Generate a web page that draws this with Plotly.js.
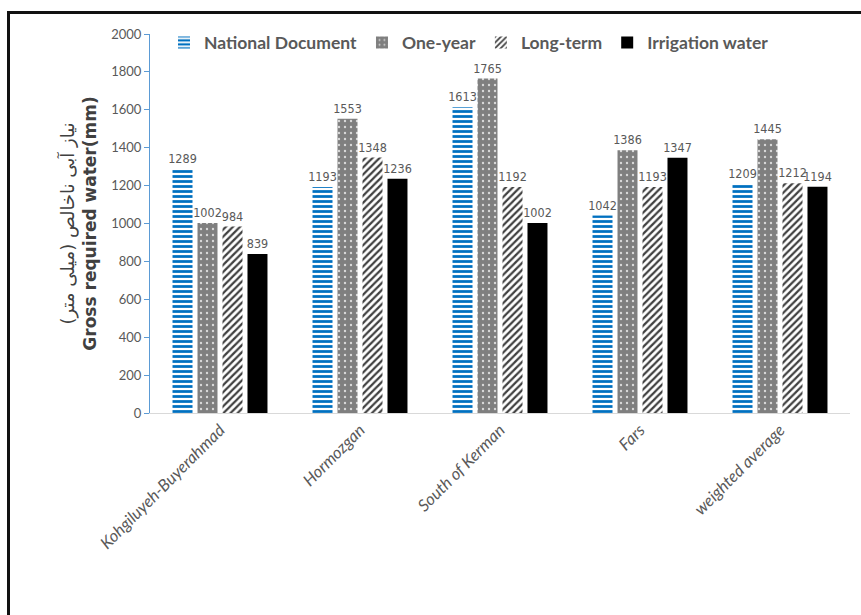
<!DOCTYPE html>
<html>
<head>
<meta charset="utf-8">
<script src="https://cdn.plot.ly/plotly-3.0.1.min.js"></script>
<style>
  html, body { margin: 0; padding: 0; background: #fff; }
  #chart { width: 861px; height: 615px; }
  #frame { position: absolute; left: 7px; top: 11px; width: 900px; height: 700px;
           border-left: 3px solid #111; border-top: 3px solid #111; pointer-events: none; }
</style>
</head>
<body>
<div id="chart"></div>
<div id="frame"></div>
<script>
const regions = ["Kohgiluyeh-Buyerahmad", "Hormozgan", "South of Kerman", "Fars", "weighted average"];
const seriesNames = ["National Document", "One-year", "Long-term", "Irrigation water"];
const nationalDocument = [1289, 1193, 1613, 1042, 1209];
const oneYear = [1002, 1553, 1765, 1386, 1445];
const longTerm = [984, 1348, 1192, 1193, 1212];
const irrigationWater = [839, 1236, 1002, 1347, 1194];
const yTicks = [0, 200, 400, 600, 800, 1000, 1200, 1400, 1600, 1800, 2000];

const labelFont = {family: "'Liberation Sans Narrow', 'DejaVu Sans Condensed', Lato, sans-serif", size: 12.5, color: "#595959"};

function barTrace(name, values, marker) {
  return {
    type: "bar", name: name, x: regions, y: values,
    text: values.map(String), textposition: "outside", textfont: labelFont,
    constraintext: "none", cliponaxis: false, marker: marker, hoverinfo: "x+y+name"
  };
}

const traces = [
  barTrace(seriesNames[0], nationalDocument, {
    color: "#ffffff",
    pattern: {shape: "-", fgcolor: "#0070C0", bgcolor: "#ffffff", size: 5, solidity: 0.55}
  }),
  barTrace(seriesNames[1], oneYear, {
    color: "#7F7F7F",
    pattern: {shape: ".", fgcolor: "#D9D9D9", bgcolor: "#7F7F7F", size: 6, solidity: 0.12}
  }),
  barTrace(seriesNames[2], longTerm, {
    color: "#ffffff",
    pattern: {shape: "/", fgcolor: "#404040", bgcolor: "#ffffff", size: 5, solidity: 0.45}
  }),
  barTrace(seriesNames[3], irrigationWater, {color: "#000000"})
];

const layout = {
  width: 861, height: 615,
  paper_bgcolor: "#ffffff", plot_bgcolor: "#ffffff",
  font: {family: "Lato, 'Open Sans', sans-serif", color: "#595959"},
  margin: {l: 150, r: 11, t: 34, b: 202},
  barmode: "group", bargap: 0.286, bargroupgap: 0.2,
  showlegend: true,
  legend: {
    orientation: "h", x: 0.02, y: 1.025, xanchor: "left", yanchor: "top",
    font: {family: "Lato, 'Open Sans', sans-serif", size: 17.5, color: "#595959", weight: "bold"},
    bgcolor: "rgba(0,0,0,0)", traceorder: "normal"
  },
  xaxis: {
    type: "category", tickangle: -45,
    tickfont: {family: "Lato, 'Open Sans', sans-serif", size: 16.5, color: "#595959", style: "italic"},
    showline: true, linecolor: "#D9D9D9", linewidth: 1, ticks: "", showgrid: false,
    zeroline: false
  },
  yaxis: {
    range: [0, 2000], tickmode: "array", tickvals: yTicks, ticktext: yTicks.map(String),
    tickfont: {family: "Lato, 'Open Sans', sans-serif", size: 13, color: "#595959"},
    showline: true, linecolor: "#5B9BD5", linewidth: 1, ticks: "outside", tickcolor: "#5B9BD5",
    ticklen: 5, showgrid: false, zeroline: false,
    title: {
      text: "<span style='font-size:18px'>نیاز آبی ناخالص (میلی متر)</span><br><b>Gross required water(mm)</b>",
      font: {family: "'DejaVu Sans', Lato, sans-serif", size: 17, color: "#404040"},
      standoff: 10
    }
  }
};

Plotly.newPlot("chart", traces, layout, {displayModeBar: false, staticPlot: true});
</script>
</body>
</html>
